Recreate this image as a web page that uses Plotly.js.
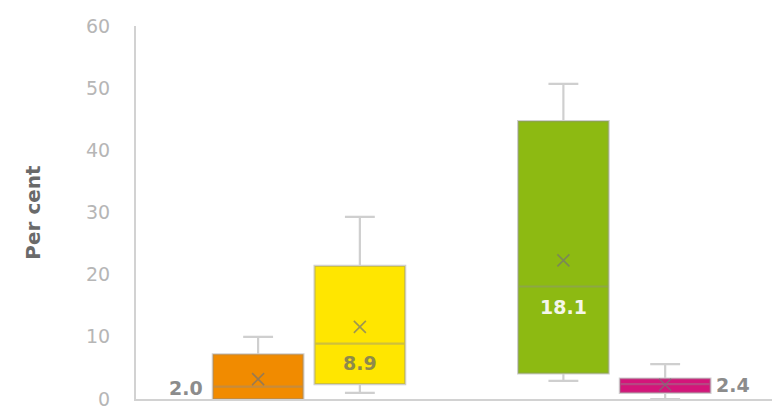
<!DOCTYPE html>
<html><head><meta charset="utf-8">
<script src="https://cdn.plot.ly/plotly-3.0.1.min.js"></script>
<style>html,body{margin:0;padding:0;background:#fff;}#chart{width:772px;height:409px;}</style>
</head><body><div id="chart"></div>
<script>
// Data
const allCategories = ["c1", "c2", "c3", "c4", "c5", "c6"];
const categories = ["c1", "c2", "c4", "c5"];
const lowerFence = [0.0, 1.0, 2.9, 0.0];
const q1 = [0.0, 2.4, 4.1, 1.0];
const median = [2.0, 8.9, 18.1, 2.4];
const q3 = [7.2, 21.4, 44.7, 3.3];
const upperFence = [10.0, 29.3, 50.7, 5.6];
const mean = [3.2, 11.6, 22.3, 2.3];
const medianLabels = ["2.0", "8.9", "18.1", "2.4"];
const colors = ["#F18B00", "#FFE600", "#8DBA12", "#D4157A"];

const traces = categories.map((c, i) => ({
  type: "box",
  x: [c],
  q1: [q1[i]], median: [median[i]], q3: [q3[i]],
  lowerfence: [lowerFence[i]], upperfence: [upperFence[i]],
  fillcolor: colors[i],
  line: {color: "rgba(140,140,140,0.42)", width: 2.2},
  width: 0.89,
  whiskerwidth: 0.33,
  boxpoints: false,
  hoverinfo: "skip",
  showlegend: false
}));

traces.push({
  type: "scatter", mode: "markers",
  x: categories, y: mean,
  marker: {symbol: "x-thin-open", size: 12, color: "rgba(115,115,115,0.7)", line: {color: "rgba(115,115,115,0.7)", width: 1.6}},
  hoverinfo: "skip", showlegend: false
});

const fam = "DejaVu Sans, Verdana, sans-serif";
const labelFont = {family: fam, size: 19, color: "#8c8c8c", weight: 700};
const annotations = [
  {x: categories[0], y: median[0], text: medianLabels[0], xshift: -72, yshift: -1, font: labelFont},
  {x: categories[1], y: median[1], text: medianLabels[1], yshift: -19, font: Object.assign({}, labelFont, {color: "#8f8a4a"})},
  {x: categories[2], y: median[2], text: medianLabels[2], yshift: -21, font: Object.assign({}, labelFont, {color: "#f4f6ea"})},
  {x: categories[3], y: median[3], text: medianLabels[3], xshift: 68, yshift: -1, font: labelFont}
].map(a => Object.assign({xref: "x", yref: "y", showarrow: false}, a));

const layout = {
  width: 772, height: 409,
  margin: {l: 136, r: 0, t: 26, b: 10},
  paper_bgcolor: "#fff", plot_bgcolor: "#fff",
  showlegend: false,
  xaxis: {
    type: "category", categoryorder: "array", categoryarray: allCategories,
    range: [-1.2, 5.05], showticklabels: false, ticks: "",
    showgrid: false, zeroline: false, showline: true,
    linecolor: "#d2d2d2", linewidth: 2, fixedrange: true
  },
  yaxis: {
    range: [0, 60], tickvals: [0, 10, 20, 30, 40, 50, 60],
    showgrid: false, zeroline: false, showline: true,
    linecolor: "#d2d2d2", linewidth: 2, ticks: "",
    ticklabelstandoff: 20, ticklabeloverflow: "allow",
    tickfont: {family: fam, size: 19, color: "#b6b6b6"},
    title: {text: "Per cent", standoff: 40, font: {family: fam, size: 20, color: "#6a6a6a", weight: 700}},
    fixedrange: true
  },
  annotations: annotations
};

Plotly.newPlot("chart", traces, layout, {displayModeBar: false, staticPlot: true});
</script></body></html>
